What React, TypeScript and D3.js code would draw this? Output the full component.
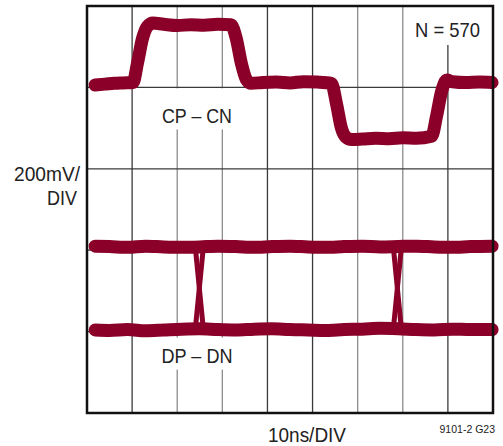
import React from "react";
import * as d3 from "d3";

// ---- data (time in ns, amplitude in mV) ----
const xDivisions = [0, 10, 20, 30, 40, 50, 60, 70, 80, 90];
const yDivisions = [0, 200, 400, 600, 800, 1000];
const grayDivisions = [20, 30, 60, 70];

const cpTime = [1.8, 4, 6, 8, 10.2, 11.2, 12.3, 13.4, 14.6, 17, 20, 23, 26, 29, 31.9, 33.1, 34.2, 35.3, 36.4, 39, 42, 45, 48, 51, 54.2, 55.3, 56.4, 57.4, 58.6, 61, 64, 67, 70, 73, 76.4, 77.5, 78.6, 79.8, 81, 84, 87, 89.8];
const cpValue = [806, 808, 810, 811, 812, 860, 920, 950, 958, 955, 952, 954, 953, 955, 954, 920, 860, 820, 810, 812, 813, 811, 814, 813, 810, 760, 700, 678, 672, 673, 675, 674, 676, 675, 680, 730, 790, 818, 814, 812, 813, 812];

const dpUpperTime = [1.8, 5, 9, 13, 17, 21, 25, 29, 33, 37, 41, 45, 49, 53, 57, 61, 65, 69, 73, 77, 81, 85, 89.8];
const dpUpperValue = [410, 409, 407, 410, 408, 407, 408, 410, 409, 407, 409, 410, 408, 407, 409, 410, 408, 409, 410, 408, 407, 409, 410];
const dpLowerTime = [1.8, 5, 9, 13, 17, 21, 25, 29, 33, 37, 41, 45, 49, 53, 57, 61, 65, 69, 73, 77, 81, 85, 89.8];
const dpLowerValue = [204, 203, 205, 202, 204, 206, 207, 205, 204, 206, 207, 205, 204, 203, 205, 206, 208, 207, 205, 204, 206, 205, 205];
const dpEdgeTimes = [24.9, 68.8];

const labelCP = "CP – CN";
const labelDP = "DP – DN";
const labelN = "N = 570";
const yLabel = ["200mV/", "DIV"];
const xLabel = "10ns/DIV";
const figId = "9101-2 G23";

const W = 503;
const H = 446;
const left = 87;
const right = 493;
const top = 6;
const bottom = 413;
const traceColor = "#8a0029";
const font = "'Liberation Sans', Arial, sans-serif";

export default function App() {
  const x = d3.scaleLinear().domain([0, 90]).range([left, right]);
  const y = d3.scaleLinear().domain([0, 1000]).range([bottom, top]);

  const line = d3
    .line<[number, number]>()
    .x((d) => x(d[0]))
    .y((d) => y(d[1]))
    .curve(d3.curveMonotoneX);
  const straight = d3
    .line<[number, number]>()
    .x((d) => x(d[0]))
    .y((d) => y(d[1]));

  const cp = cpTime.map((t, i) => [t, cpValue[i]] as [number, number]);
  const up = dpUpperTime.map((t, i) => [t, dpUpperValue[i]] as [number, number]);
  const lo = dpLowerTime.map((t, i) => [t, dpLowerValue[i]] as [number, number]);
  const hi = d3.mean(dpUpperValue) as number;
  const lw = d3.mean(dpLowerValue) as number;

  const T = (props: { x: number; y: number; w: number; size: number; anchor: string; children: string }) => (
    <text x={props.x} y={props.y} fontSize={props.size} textAnchor={props.anchor}
      textLength={props.w} lengthAdjust="spacingAndGlyphs">{props.children}</text>
  );

  return (
    <svg width={W} height={H} style={{ position: "absolute", left: 0, top: 0, background: "#fff" }}>
      {/* grid */}
      {xDivisions.slice(1, -1).map((v) => (
        <line key={"v" + v} x1={x(v)} x2={x(v)} y1={top} y2={bottom}
          stroke={grayDivisions.includes(v) ? "#8c8c8c" : "#3a3a3a"} strokeWidth={1.3} />
      ))}
      {yDivisions.slice(1, -1).map((v) => (
        <line key={"h" + v} x1={left} x2={right} y1={y(v)} y2={y(v)} stroke="#3a3a3a" strokeWidth={1.3} />
      ))}
      {/* label backgrounds */}
      <rect x={158} y={y(800) + 1} width={78} height={41} fill="#fff" />
      <rect x={158} y={y(200) + 6} width={78} height={32} fill="#fff" />
      <rect x={410} y={top} width={76} height={39} fill="#fff" />

      {/* traces */}
      <path d={line(cp) || ""} fill="none" stroke={traceColor} strokeWidth={13} strokeLinejoin="round" strokeLinecap="round" />
      <path d={line(up) || ""} fill="none" stroke={traceColor} strokeWidth={13} strokeLinejoin="round" strokeLinecap="round" />
      <path d={line(lo) || ""} fill="none" stroke={traceColor} strokeWidth={13} strokeLinejoin="round" strokeLinecap="round" />
      {dpEdgeTimes.map((t) => (
        <g key={"e" + t}>
          <path d={straight([[t - 0.9, hi], [t + 0.9, lw]]) || ""} stroke={traceColor} strokeWidth={5} fill="none" />
          <path d={straight([[t + 0.9, hi], [t - 0.9, lw]]) || ""} stroke={traceColor} strokeWidth={5} fill="none" />
        </g>
      ))}

      {/* frame */}
      <rect x={left} y={top} width={right - left} height={bottom - top} fill="none" stroke="#111" strokeWidth={2.5} />

      {/* text */}
      <g fontFamily={font} fill="#222">
        <T x={197} y={123} w={70} size={21} anchor="middle">{labelCP}</T>
        <T x={197} y={363} w={71} size={21} anchor="middle">{labelDP}</T>
        <T x={480} y={37} w={65} size={21} anchor="end">{labelN}</T>
        <T x={80} y={181} w={66} size={21} anchor="end">{yLabel[0]}</T>
        <T x={77} y={205} w={30} size={21} anchor="end">{yLabel[1]}</T>
        <T x={307} y={442} w={78} size={21} anchor="middle">{xLabel}</T>
        <text x={495} y={433} fontSize={10.5} textAnchor="end">{figId}</text>
      </g>
    </svg>
  );
}
